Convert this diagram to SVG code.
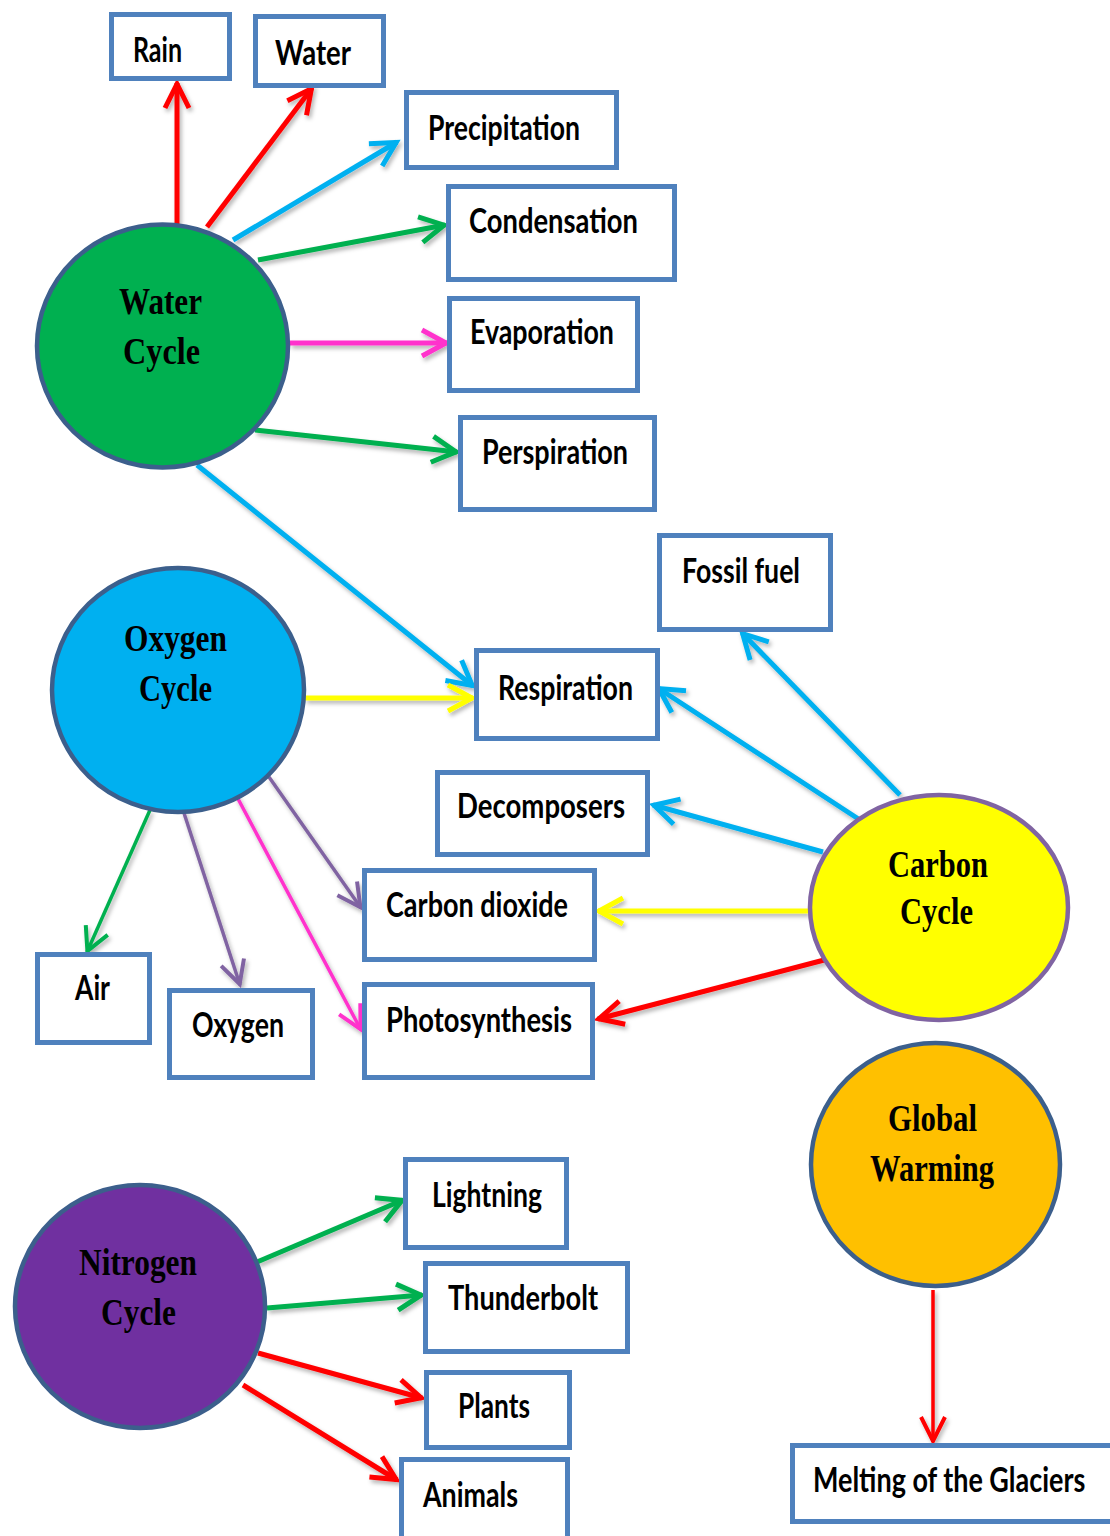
<svg xmlns="http://www.w3.org/2000/svg" width="1110" height="1536" viewBox="0 0 1110 1536">
  <style>
    .box { fill: #ffffff; stroke: #4F81BD; stroke-width: 5; }
    .lbl { font-family: "Lato", "Liberation Sans", sans-serif; font-weight: 700; font-size: 35px; fill: #000000; }
    .cyc { font-family: "Liberation Serif", "Times New Roman", serif; font-weight: 700; font-size: 37px; fill: #000000; text-anchor: start; }
    .ring { stroke: #3C5F8C; stroke-width: 4.5; }
    .c { fill: none; stroke-linecap: butt; }
    .thick { stroke-width: 5; }
    .thin { stroke-width: 3.5; }
    .red { stroke: #FF0000; }
    .blue { stroke: #00B0F0; }
    .green { stroke: #00B050; }
    .pink { stroke: #FF33CC; }
    .yellow { stroke: #FFFF00; }
    .purple { stroke: #8064A2; }
  </style>
  <defs>
    <filter id="shade" x="-20%" y="-20%" width="140%" height="140%">
      <feDropShadow dx="2" dy="3" stdDeviation="2" flood-color="#000000" flood-opacity="0.3"/>
    </filter>
    <!-- open chevron heads, one per stroke colour -->
    <marker id="hRed" markerUnits="userSpaceOnUse" markerWidth="44" markerHeight="40" refX="34" refY="20" orient="auto" overflow="visible">
      <path d="M9 8 L33 20 L9 32" fill="none" stroke="#FF0000" stroke-width="5"/>
    </marker>
    <marker id="hRedThin" markerUnits="userSpaceOnUse" markerWidth="44" markerHeight="40" refX="34" refY="20" orient="auto" overflow="visible">
      <path d="M9 8 L33 20 L9 32" fill="none" stroke="#FF0000" stroke-width="4"/>
    </marker>
    <marker id="hBlue" markerUnits="userSpaceOnUse" markerWidth="44" markerHeight="40" refX="34" refY="20" orient="auto" overflow="visible">
      <path d="M9 7 L33 20 L9 33" fill="none" stroke="#00B0F0" stroke-width="5"/>
    </marker>
    <marker id="hGreen" markerUnits="userSpaceOnUse" markerWidth="44" markerHeight="40" refX="34" refY="20" orient="auto" overflow="visible">
      <path d="M9 7 L33 20 L9 33" fill="none" stroke="#00B050" stroke-width="5"/>
    </marker>
    <marker id="hGreenThin" markerUnits="userSpaceOnUse" markerWidth="44" markerHeight="40" refX="34" refY="20" orient="auto" overflow="visible">
      <path d="M10 8 L33 20 L10 32" fill="none" stroke="#00B050" stroke-width="4"/>
    </marker>
    <marker id="hPink" markerUnits="userSpaceOnUse" markerWidth="44" markerHeight="40" refX="34" refY="20" orient="auto" overflow="visible">
      <path d="M9 7 L33 20 L9 33" fill="none" stroke="#FF33CC" stroke-width="5"/>
    </marker>
    <marker id="hPinkThin" markerUnits="userSpaceOnUse" markerWidth="44" markerHeight="40" refX="34" refY="20" orient="auto" overflow="visible">
      <path d="M10 8 L33 20 L10 32" fill="none" stroke="#FF33CC" stroke-width="4"/>
    </marker>
    <marker id="hYellow" markerUnits="userSpaceOnUse" markerWidth="44" markerHeight="40" refX="34" refY="20" orient="auto" overflow="visible">
      <path d="M9 7 L33 20 L9 33" fill="none" stroke="#FFFF00" stroke-width="5"/>
    </marker>
    <marker id="hPurpleThin" markerUnits="userSpaceOnUse" markerWidth="44" markerHeight="40" refX="34" refY="20" orient="auto" overflow="visible">
      <path d="M10 8 L33 20 L10 32" fill="none" stroke="#8064A2" stroke-width="4"/>
    </marker>
  </defs>

  <rect width="1110" height="1536" fill="#ffffff"/>

  <!-- connectors -->
  <g id="connectors" filter="url(#shade)">
    <line class="c thick red" x1="177" y1="224" x2="177" y2="83" marker-end="url(#hRed)"/>
    <line class="c thick red" x1="207" y1="227" x2="312" y2="88" marker-end="url(#hRed)"/>
    <line class="c thick blue" x1="233" y1="240" x2="397" y2="142" marker-end="url(#hBlue)"/>
    <line class="c thick green" x1="258" y1="260" x2="445" y2="225" marker-end="url(#hGreen)"/>
    <line class="c thick pink" x1="290" y1="343" x2="447" y2="343" marker-end="url(#hPink)"/>
    <line class="c thick green" x1="255" y1="430" x2="457" y2="452" marker-end="url(#hGreen)"/>
    <line class="c thick blue" x1="197" y1="465" x2="473" y2="686" marker-end="url(#hBlue)"/>
    <line class="c thick yellow" x1="305" y1="698" x2="473" y2="698" marker-end="url(#hYellow)"/>
    <line class="c thick blue" x1="900" y1="795" x2="742" y2="633" marker-end="url(#hBlue)"/>
    <line class="c thick blue" x1="860" y1="820" x2="658" y2="688" marker-end="url(#hBlue)"/>
    <line class="c thick blue" x1="823" y1="852" x2="653" y2="805" marker-end="url(#hBlue)"/>
    <line class="c thick yellow" x1="808" y1="911" x2="598" y2="911" marker-end="url(#hYellow)"/>
    <line class="c thick red" x1="828" y1="959" x2="598" y2="1019" marker-end="url(#hRed)"/>
    <line class="c thin green" x1="150" y1="810" x2="87" y2="952" marker-end="url(#hGreenThin)"/>
    <line class="c thin purple" x1="183" y1="810" x2="240" y2="985" marker-end="url(#hPurpleThin)"/>
    <line class="c thin pink" x1="236" y1="795" x2="361" y2="1030" marker-end="url(#hPinkThin)"/>
    <line class="c thin purple" x1="269" y1="777" x2="361" y2="908" marker-end="url(#hPurpleThin)"/>
    <line class="c thick green" x1="257" y1="1262" x2="403" y2="1200" marker-end="url(#hGreen)"/>
    <line class="c thick green" x1="267" y1="1308" x2="422" y2="1295" marker-end="url(#hGreen)"/>
    <line class="c thick red" x1="258" y1="1353" x2="422" y2="1398" marker-end="url(#hRed)"/>
    <line class="c thick red" x1="243" y1="1385" x2="397" y2="1480" marker-end="url(#hRed)"/>
    <line class="c thin red" x1="933" y1="1290" x2="933" y2="1442" marker-end="url(#hRedThin)"/>
  </g>

  <!-- cycle nodes -->
  <g id="water-cycle">
    <ellipse class="ring" cx="162.5" cy="346" rx="125.5" ry="121.5" fill="#00B050"/>
    <text class="cyc" x="119" y="314" textLength="83" lengthAdjust="spacingAndGlyphs">Water</text>
    <text class="cyc" x="123" y="364" textLength="77" lengthAdjust="spacingAndGlyphs">Cycle</text>
  </g>
  <g id="oxygen-cycle">
    <ellipse class="ring" cx="178" cy="690" rx="126" ry="122" fill="#00B0F0"/>
    <text class="cyc" x="124" y="651" textLength="103" lengthAdjust="spacingAndGlyphs">Oxygen</text>
    <text class="cyc" x="139" y="701" textLength="73" lengthAdjust="spacingAndGlyphs">Cycle</text>
  </g>
  <g id="carbon-cycle">
    <ellipse cx="939" cy="907.5" rx="129" ry="112.5" fill="#FFFF00" stroke="#8064A2" stroke-width="4.5"/>
    <text class="cyc" x="888" y="877" textLength="100" lengthAdjust="spacingAndGlyphs">Carbon</text>
    <text class="cyc" x="900" y="924" textLength="73" lengthAdjust="spacingAndGlyphs">Cycle</text>
  </g>
  <g id="global-warming">
    <ellipse class="ring" cx="935.5" cy="1164.5" rx="124.5" ry="121.5" fill="#FFC000"/>
    <text class="cyc" x="888" y="1131" textLength="89" lengthAdjust="spacingAndGlyphs">Global</text>
    <text class="cyc" x="870" y="1181" textLength="124" lengthAdjust="spacingAndGlyphs">Warming</text>
  </g>
  <g id="nitrogen-cycle">
    <ellipse class="ring" cx="140" cy="1306.5" rx="125" ry="121.5" fill="#7030A0"/>
    <text class="cyc" x="79" y="1275" textLength="118" lengthAdjust="spacingAndGlyphs">Nitrogen</text>
    <text class="cyc" x="101" y="1325" textLength="75" lengthAdjust="spacingAndGlyphs">Cycle</text>
  </g>

  <!-- label boxes -->
  <g id="rain">
    <rect class="box" x="111.5" y="14.5" width="118" height="64"/>
    <text class="lbl" x="133" y="62" textLength="49" lengthAdjust="spacingAndGlyphs">Rain</text>
  </g>
  <g id="water">
    <rect class="box" x="255.5" y="16.5" width="128" height="69"/>
    <text class="lbl" x="275" y="65" textLength="76" lengthAdjust="spacingAndGlyphs">Water</text>
  </g>
  <g id="precipitation">
    <rect class="box" x="406.5" y="92.5" width="210" height="75"/>
    <text class="lbl" x="428" y="140" textLength="152" lengthAdjust="spacingAndGlyphs">Precipitation</text>
  </g>
  <g id="condensation">
    <rect class="box" x="448.5" y="186.5" width="226" height="93"/>
    <text class="lbl" x="469" y="233" textLength="169" lengthAdjust="spacingAndGlyphs">Condensation</text>
  </g>
  <g id="evaporation">
    <rect class="box" x="449.5" y="298.5" width="188" height="92"/>
    <text class="lbl" x="470" y="344" textLength="144" lengthAdjust="spacingAndGlyphs">Evaporation</text>
  </g>
  <g id="perspiration">
    <rect class="box" x="460.5" y="417.5" width="194" height="92"/>
    <text class="lbl" x="482" y="464" textLength="146" lengthAdjust="spacingAndGlyphs">Perspiration</text>
  </g>
  <g id="fossil-fuel">
    <rect class="box" x="659.5" y="535.5" width="171" height="94"/>
    <text class="lbl" x="682" y="583" textLength="118" lengthAdjust="spacingAndGlyphs">Fossil fuel</text>
  </g>
  <g id="respiration">
    <rect class="box" x="476.5" y="650.5" width="181" height="88"/>
    <text class="lbl" x="498" y="700" textLength="135" lengthAdjust="spacingAndGlyphs">Respiration</text>
  </g>
  <g id="decomposers">
    <rect class="box" x="437.5" y="772.5" width="210" height="82"/>
    <text class="lbl" x="457" y="818" textLength="168" lengthAdjust="spacingAndGlyphs">Decomposers</text>
  </g>
  <g id="carbon-dioxide">
    <rect class="box" x="364.5" y="870.5" width="230" height="89"/>
    <text class="lbl" x="386" y="917" textLength="182" lengthAdjust="spacingAndGlyphs">Carbon dioxide</text>
  </g>
  <g id="photosynthesis">
    <rect class="box" x="364.5" y="984.5" width="228" height="93"/>
    <text class="lbl" x="386" y="1032" textLength="186" lengthAdjust="spacingAndGlyphs">Photosynthesis</text>
  </g>
  <g id="air">
    <rect class="box" x="37.5" y="954.5" width="112" height="88"/>
    <text class="lbl" x="75" y="1000" textLength="35" lengthAdjust="spacingAndGlyphs">Air</text>
  </g>
  <g id="oxygen">
    <rect class="box" x="169.5" y="990.5" width="143" height="87"/>
    <text class="lbl" x="192" y="1037" textLength="92" lengthAdjust="spacingAndGlyphs">Oxygen</text>
  </g>
  <g id="lightning">
    <rect class="box" x="405.5" y="1159.5" width="161" height="88"/>
    <text class="lbl" x="432" y="1207" textLength="110" lengthAdjust="spacingAndGlyphs">Lightning</text>
  </g>
  <g id="thunderbolt">
    <rect class="box" x="425.5" y="1263.5" width="202" height="88"/>
    <text class="lbl" x="448" y="1310" textLength="150" lengthAdjust="spacingAndGlyphs">Thunderbolt</text>
  </g>
  <g id="plants">
    <rect class="box" x="426.5" y="1372.5" width="143" height="75"/>
    <text class="lbl" x="458" y="1418" textLength="72" lengthAdjust="spacingAndGlyphs">Plants</text>
  </g>
  <g id="animals">
    <rect class="box" x="401.5" y="1459.5" width="166" height="90"/>
    <text class="lbl" x="423" y="1507" textLength="95" lengthAdjust="spacingAndGlyphs">Animals</text>
  </g>
  <g id="melting-of-the-glaciers">
    <rect class="box" x="792.5" y="1445.5" width="330" height="76"/>
    <!-- horizontally condensed so the long label stays inside the page -->
    <text class="lbl" transform="translate(813 1492) scale(0.77 1)" x="0" y="0">Melting of the Glaciers</text>
  </g>
</svg>
